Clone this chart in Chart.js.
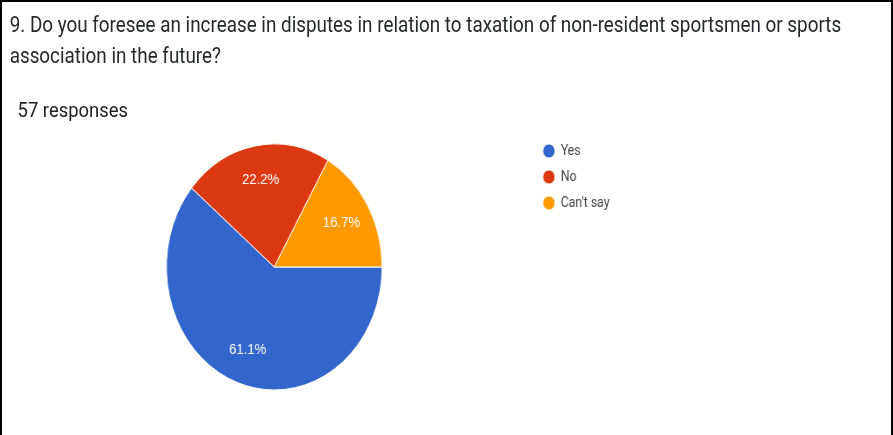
<!DOCTYPE html>
<html>
<head>
<meta charset="utf-8">
<script src="https://cdn.jsdelivr.net/npm/chart.js@4.4.1/dist/chart.umd.min.js"></script>
<style>
  html, body { margin: 0; padding: 0; background: #fff; overflow: hidden; }
  .frame {
    position: absolute; left: 0; top: 0;
    width: 889px; height: 470px;
    border: 2px solid #000;
  }
  /* the form card is laid out wide, then squeezed horizontally */
  .card {
    position: absolute; left: 0; top: 0;
    width: 1018px; height: 435px;
    transform: scaleX(0.877);
    transform-origin: 0 0;
  }
  .question {
    position: absolute; left: 11px; top: 9px;
    font-family: Roboto, sans-serif; font-size: 21.5px; line-height: 31px;
    color: #27282b; white-space: nowrap;
  }
  .count {
    position: absolute; left: 20px; top: 98px;
    font-family: Roboto, sans-serif; font-size: 21px;
    color: #202124; white-space: nowrap;
  }
  .chart-box {
    position: absolute; left: 16px; top: 130px;
    width: 691px; height: 274px;
  }
</style>
</head>
<body>
<div class="frame"></div>
<div class="card">
  <div class="question">9. Do you foresee an increase in disputes in relation to taxation of non-resident sportsmen or sports<br>association in the future?</div>
  <div class="count">57 responses</div>
  <div class="chart-box"><canvas id="pie"></canvas></div>
</div>
<script>
const answers = ['Yes', 'No', "Can't say"];
const shares = [61.1, 22.2, 16.7];
const sliceColors = ['#3366cc', '#dc3912', '#ff9900'];

// writes the percentage inside each slice
const sliceLabels = {
  id: 'sliceLabels',
  afterDatasetsDraw(chart) {
    const {ctx} = chart;
    const meta = chart.getDatasetMeta(0);
    ctx.save();
    ctx.font = '15px Arial, "Liberation Sans", sans-serif';
    ctx.fillStyle = '#ffffff';
    ctx.textAlign = 'center';
    ctx.textBaseline = 'middle';
    meta.data.forEach((arc, i) => {
      const {x, y, startAngle, endAngle, outerRadius} = arc.getProps(['x', 'y', 'startAngle', 'endAngle', 'outerRadius'], true);
      const mid = (startAngle + endAngle) / 2;
      const r = outerRadius * 0.72;
      ctx.fillText(shares[i].toFixed(1) + '%', x + Math.cos(mid) * r, y + Math.sin(mid) * r);
    });
    ctx.restore();
  }
};

new Chart(document.getElementById('pie'), {
  type: 'pie',
  data: {
    labels: answers,
    datasets: [{
      data: shares,
      backgroundColor: sliceColors,
      borderColor: '#ffffff',
      borderWidth: 1,
      radius: 123,
    }]
  },
  options: {
    responsive: true,
    maintainAspectRatio: false,
    animation: false,
    rotation: 90,
    layout: { padding: 2 },
    plugins: {
      tooltip: { enabled: false },
      legend: {
        position: 'right',
        align: 'start',
        labels: {
          usePointStyle: true,
          pointStyle: 'circle',
          boxWidth: 13,
          boxHeight: 10,
          padding: 12,
          color: '#444',
          font: { family: 'Roboto, sans-serif', size: 14 },
        },
      },
    },
  },
  plugins: [sliceLabels],
});
</script>
</body>
</html>
